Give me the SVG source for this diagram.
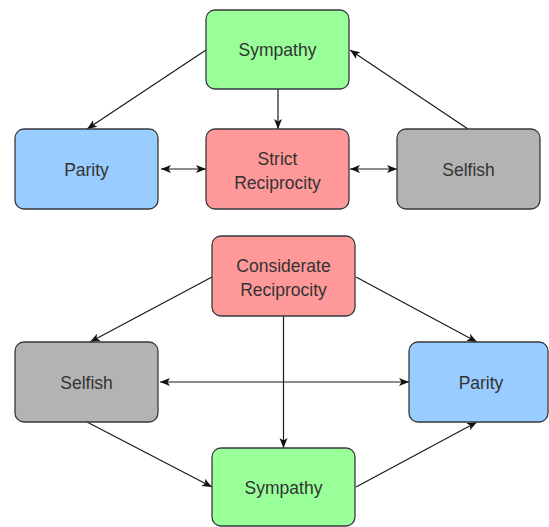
<svg xmlns="http://www.w3.org/2000/svg" width="549" height="527" viewBox="0 0 549 527">
<style>
.box{stroke:#36393d;stroke-width:1.3}
.g{fill:#99ff99}.r{fill:#ff9999}.b{fill:#99ccff}.s{fill:#b3b3b3}
.t{font-family:"Liberation Sans",Arial,sans-serif;font-size:17.5px;fill:#333333;text-anchor:middle}
.c{fill:none;stroke:#1a1a1a;stroke-width:1.2}
</style>
<defs>
<marker id="a" viewBox="0 0 10 10" refX="10" refY="5" markerWidth="10" markerHeight="10" markerUnits="userSpaceOnUse" orient="auto-start-reverse">
<path d="M0,1 L10,5 L0,9 L2.5,5 Z" fill="#111"/>
</marker>
</defs>
<rect width="549" height="527" fill="#ffffff"/>
<g id="connectors">
<path class="c" d="M206,50 L87,129" marker-end="url(#a)"/>
<path class="c" d="M278,89 L278,129" marker-end="url(#a)"/>
<path class="c" d="M161,169 L206,169" marker-start="url(#a)" marker-end="url(#a)"/>
<path class="c" d="M350,169 L397,169" marker-start="url(#a)" marker-end="url(#a)"/>
<path class="c" d="M468,129 L350,50" marker-end="url(#a)"/>
<path class="c" d="M212,277 L90,342" marker-end="url(#a)"/>
<path class="c" d="M356,277 L477,342" marker-end="url(#a)"/>
<path class="c" d="M283.5,316 L283.5,448" marker-end="url(#a)"/>
<path class="c" d="M160,382 L409,382" marker-start="url(#a)" marker-end="url(#a)"/>
<path class="c" d="M87,422 L212,487" marker-end="url(#a)"/>
<path class="c" d="M356,487 L477,422" marker-end="url(#a)"/>
</g>
<g id="sympathy-top"><rect class="box g" x="206" y="10" width="143" height="79" rx="9"/><text class="t" x="277.5" y="56">Sympathy</text></g>
<g id="parity-top"><rect class="box b" x="15" y="129" width="143" height="80" rx="9"/><text class="t" x="86.5" y="175.5">Parity</text></g>
<g id="strict-reciprocity"><rect class="box r" x="206" y="129" width="143" height="80" rx="9"/><text class="t" x="277.5" y="165">Strict</text><text class="t" x="277.5" y="189">Reciprocity</text></g>
<g id="selfish-top"><rect class="box s" x="397" y="129" width="143" height="80" rx="9"/><text class="t" x="468.5" y="175.5">Selfish</text></g>
<g id="considerate-reciprocity"><rect class="box r" x="212" y="236" width="143" height="80" rx="9"/><text class="t" x="283.5" y="272">Considerate</text><text class="t" x="283.5" y="296">Reciprocity</text></g>
<g id="selfish-bottom"><rect class="box s" x="15" y="342" width="143" height="80" rx="9"/><text class="t" x="86.5" y="388.5">Selfish</text></g>
<g id="parity-bottom"><rect class="box b" x="409" y="342" width="139" height="80" rx="9"/><text class="t" x="481" y="388.5">Parity</text></g>
<g id="sympathy-bottom"><rect class="box g" x="212" y="448" width="143" height="78" rx="9"/><text class="t" x="283.5" y="494">Sympathy</text></g>
</svg>
